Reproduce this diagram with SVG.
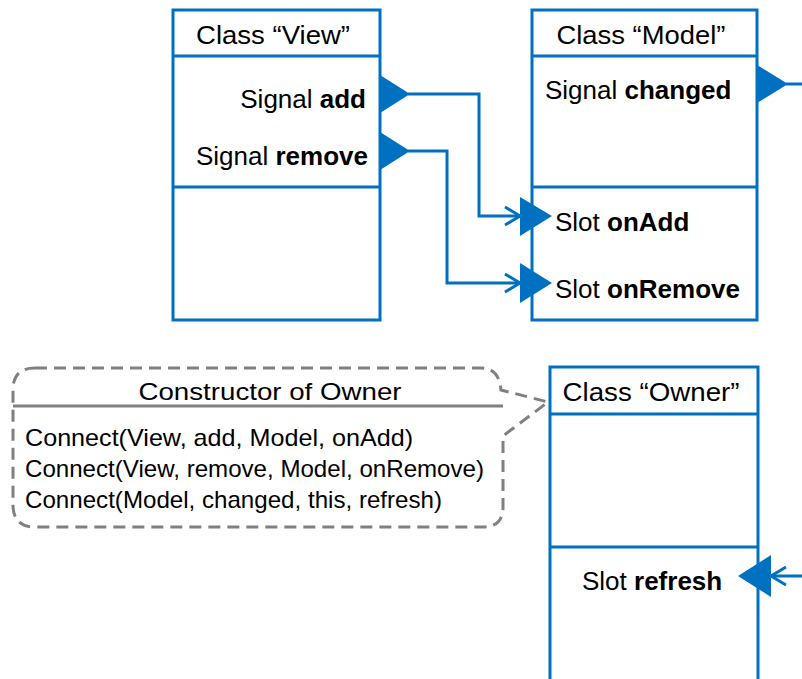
<svg xmlns="http://www.w3.org/2000/svg" width="802" height="679" viewBox="0 0 802 679">
<style>
.box{fill:#fff;stroke:#0070C0;stroke-width:3}
.sep{stroke:#0070C0;stroke-width:3}
.tri{fill:#0070C0;stroke:none}
.conn{fill:none;stroke:#0070C0;stroke-width:3;stroke-linejoin:miter}
.t{font-family:"Liberation Sans",Arial,sans-serif;font-size:26px;fill:#000}
.c{font-family:"Liberation Sans",Arial,sans-serif;font-size:24px;fill:#000}
.b{font-weight:bold}
.note{fill:#fff;stroke:#808080;stroke-width:3;stroke-dasharray:12 7}
</style>
<rect width="802" height="679" fill="#fff"/>
<g id="view">
<rect class="box" x="173" y="10" width="207" height="310"/>
<line class="sep" x1="173" y1="56" x2="380" y2="56"/>
<line class="sep" x1="173" y1="187" x2="380" y2="187"/>
<text class="t" x="273" y="44" text-anchor="middle" textLength="154" lengthAdjust="spacingAndGlyphs">Class “View”</text>
<text class="t" x="366" y="108" text-anchor="end">Signal <tspan class="b">add</tspan></text>
<text class="t" x="368" y="165" text-anchor="end">Signal <tspan class="b">remove</tspan></text>
<polygon class="tri" points="380,75 410,94 380,113"/>
<polygon class="tri" points="380,132 410,151 380,170"/>
</g>
<g id="model">
<rect class="box" x="532" y="10" width="225" height="310"/>
<line class="sep" x1="532" y1="56" x2="757" y2="56"/>
<line class="sep" x1="532" y1="187" x2="757" y2="187"/>
<text class="t" x="641" y="44" text-anchor="middle" textLength="169" lengthAdjust="spacingAndGlyphs">Class “Model”</text>
<text class="t" x="545" y="99">Signal <tspan class="b">changed</tspan></text>
<text class="t" x="555" y="231">Slot <tspan class="b">onAdd</tspan></text>
<text class="t" x="555" y="298">Slot <tspan class="b">onRemove</tspan></text>
<polygon class="tri" points="520,197 552,216 520,236"/>
<polygon class="tri" points="520,263 552,283 520,303"/>
<polygon class="tri" points="757,65 788,84 757,103"/>
</g>
<g id="owner">
<rect class="box" x="550" y="367" width="208" height="330"/>
<line class="sep" x1="550" y1="414" x2="758" y2="414"/>
<line class="sep" x1="550" y1="547" x2="758" y2="547"/>
<text class="t" x="651" y="401" text-anchor="middle" textLength="177" lengthAdjust="spacingAndGlyphs">Class “Owner”</text>
<text class="t" x="582" y="590">Slot <tspan class="b">refresh</tspan></text>
<polygon class="tri" points="771,555 738,576 771,597"/>
</g>
<g id="constructor">
<path class="note" d="M35,368 H481 Q499,368 501,390 L548,402 L503,436 V507 Q503,527 483,527 H35 Q13,527 13,505 V390 Q13,368 35,368 Z"/>
<line x1="13" y1="406" x2="503" y2="406" stroke="#808080" stroke-width="3"/>
<text class="c" x="270" y="400" text-anchor="middle" textLength="263" lengthAdjust="spacingAndGlyphs">Constructor of Owner</text>
<text class="c" x="25" y="446" textLength="388" lengthAdjust="spacingAndGlyphs">Connect(View, add, Model, onAdd)</text>
<text class="c" x="25" y="477" textLength="459" lengthAdjust="spacingAndGlyphs">Connect(View, remove, Model, onRemove)</text>
<text class="c" x="25" y="508" textLength="417" lengthAdjust="spacingAndGlyphs">Connect(Model, changed, this, refresh)</text>
</g>
<g id="connectors">
<path class="conn" d="M408,94 H479 V216 H520"/>
<path class="conn" d="M505,207 L520,216 L505,225"/>
<path class="conn" d="M408,151 H447 V283 H520"/>
<path class="conn" d="M505,274 L520,283 L505,292"/>
<path class="conn" d="M786,84 H802"/>
<path class="conn" d="M802,576 H771"/>
<path class="conn" d="M786,567 L771,576 L786,585"/>
</g>
</svg>
